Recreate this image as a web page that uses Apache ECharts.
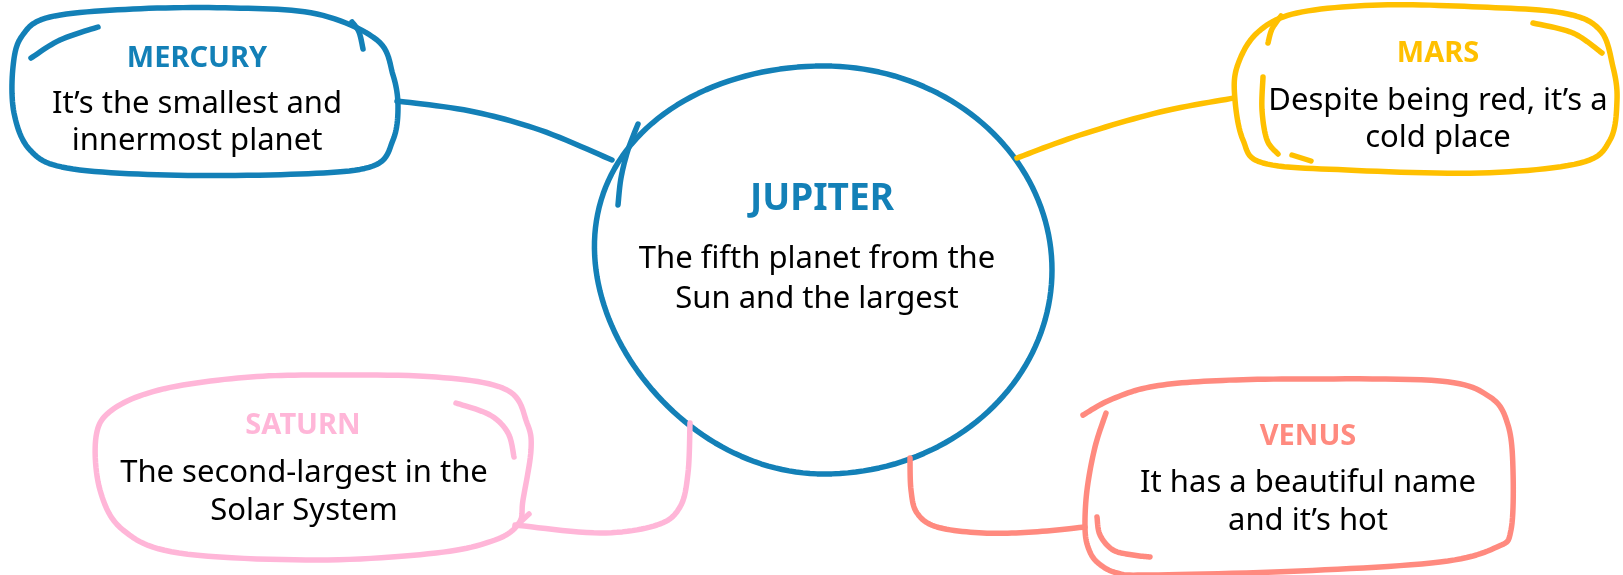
<!DOCTYPE html>
<html>
<head>
<meta charset="utf-8">
<script src="https://cdn.jsdelivr.net/npm/echarts@6/dist/echarts.min.js"></script>
<style>
  html, body { margin: 0; padding: 0; background: #ffffff; }
  #main { width: 1623px; height: 575px; }
</style>
</head>
<body>
<div id="main"></div>
<script>
// Diagram content
const planets = ['MERCURY', 'JUPITER', 'MARS', 'SATURN', 'VENUS'];
const descriptions = [
  ["It\u2019s the smallest and", 'innermost planet'],
  ['The fifth planet from the', 'Sun and the largest'],
  ["Despite being red, it\u2019s a", 'cold place'],
  ['The second-largest in the', 'Solar System'],
  ['It has a beautiful name', "and it\u2019s hot"]
];
const palette = ['#1380b7', '#1380b7', '#ffc000', '#ffb6d8', '#ff8a7f'];

// Layout in chart units (the hidden axes map 1:1 onto the canvas)
const layout = [
  { // Mercury
    title: [197, 59], titleSize: 29, lines: [[197, 104], [197, 141]],
    strokes: [
      { closed: true, pts: [[133, 9], [233, 8], [317, 14], [377, 40], [393, 75], [398, 107], [393, 140], [373, 166], [300, 174], [167, 175], [67, 168], [30, 150], [14, 113], [13, 67], [22, 36], [50, 17]] },
      { pts: [[31, 58], [60, 40], [98, 27]] },
      { pts: [[352, 22], [359, 32], [363, 49]] },
      { pts: [[397, 101], [470, 111], [540, 130], [612, 160]] }
    ]
  },
  { // Jupiter: hand-drawn ring, ellipse with the left side leaning
    title: [822, 199], titleSize: 37, lines: [[817, 259], [817, 299]],
    strokes: [
      { ring: [824, 270, 228, 204, 27] },
      { pts: [[638, 124], [628, 150], [621, 178], [618, 205]] }
    ]
  },
  { // Mars
    title: [1438, 54], titleSize: 29, lines: [[1438, 101], [1438, 138]],
    strokes: [
      { closed: true, pts: [[1380, 5], [1480, 7], [1563, 13], [1600, 30], [1613, 67], [1617, 100], [1610, 140], [1580, 163], [1480, 173], [1347, 170], [1263, 163], [1243, 140], [1235, 100], [1237, 67], [1257, 33], [1297, 13]] },
      { pts: [[1268, 43], [1272, 29], [1281, 16]] },
      { pts: [[1533, 23], [1573, 33], [1602, 53]] },
      { pts: [[1263, 77], [1262, 110], [1267, 140], [1278, 154]] },
      { pts: [[1292, 155], [1311, 161]] },
      { pts: [[1017, 158], [1080, 135], [1160, 112], [1234, 98]] }
    ]
  },
  { // Saturn
    title: [303, 426], titleSize: 29, lines: [[304, 473], [304, 511]],
    strokes: [
      { closed: true, pts: [[317, 375], [436, 377], [507, 390], [527, 423], [531, 450], [523, 500], [519, 523], [495, 540], [436, 553], [317, 560], [179, 553], [123, 530], [100, 490], [96, 437], [112, 410], [159, 390], [238, 378]] },
      { pts: [[456, 403], [490, 415], [508, 433], [514, 457]] },
      { pts: [[529, 514], [515, 527]] },
      { pts: [[515, 525], [600, 533], [657, 525], [680, 507], [688, 473], [690, 423]] }
    ]
  },
  { // Venus
    title: [1308, 437], titleSize: 29, lines: [[1308, 483], [1308, 521]],
    strokes: [
      { pts: [[1083, 415], [1110, 400], [1150, 387], [1210, 381], [1300, 379], [1440, 381], [1490, 397], [1508, 425], [1513, 470], [1511, 530], [1497, 547], [1440, 562], [1300, 571], [1150, 575], [1117, 573], [1097, 562], [1088, 547], [1085, 527], [1087, 490], [1095, 447], [1106, 413]] },
      { pts: [[1097, 517], [1100, 535], [1113, 550], [1133, 555], [1150, 557]] },
      { pts: [[910, 458], [911, 490], [917, 513], [937, 527], [983, 533], [1033, 532], [1085, 527]] }
    ]
  }
];

// catmull-rom through the points, sampled into a dense polyline
function sampleCurve(pts, closed) {
  const n = pts.length;
  if (n < 3) return pts.slice();
  const get = i => closed ? pts[(i + n) % n] : pts[Math.max(0, Math.min(n - 1, i))];
  const segs = closed ? n : n - 1;
  const out = [];
  for (let i = 0; i < segs; i++) {
    const p0 = get(i - 1), p1 = get(i), p2 = get(i + 1), p3 = get(i + 2);
    for (let k = 0; k < 12; k++) {
      const t = k / 12, t2 = t * t, t3 = t2 * t;
      const f = (a, b, c, d) => 0.5 * (2 * b + (-a + c) * t + (2 * a - 5 * b + 4 * c - d) * t2 + (-a + 3 * b - 3 * c + d) * t3);
      out.push([f(p0[0], p1[0], p2[0], p3[0]), f(p0[1], p1[1], p2[1], p3[1])]);
    }
  }
  if (!closed) out.push(pts[n - 1]);
  return out;
}

// ellipse whose left half leans: upper-left pushed out, lower-left pulled in
function sampleRing(r) {
  const [cx, cy, rx, ry, lean] = r;
  const out = [];
  for (let k = 0; k < 180; k++) {
    const a = k / 180 * Math.PI * 2;
    const c = Math.cos(a), s = Math.sin(a);
    out.push([cx + rx * c + lean * s * Math.max(0, -c), cy + ry * s]);
  }
  return out;
}

const fontFamily = '"Noto Sans", "Open Sans", sans-serif';

const chart = echarts.init(document.getElementById('main'), null, { renderer: 'canvas' });

const option = {
  animation: false,
  backgroundColor: '#ffffff',
  grid: { left: 0, right: 0, top: 0, bottom: 0 },
  xAxis: { type: 'value', min: 0, max: 1623, show: false },
  yAxis: { type: 'value', min: 0, max: 575, inverse: true, show: false },
  series: [{
    type: 'custom',
    coordinateSystem: 'cartesian2d',
    data: planets.map((p, i) => [i]),
    renderItem: function (params, api) {
      const i = api.value(0);
      const node = layout[i];
      const color = palette[i];
      const children = [];
      node.strokes.forEach(s => {
        const closed = s.closed || !!s.ring;
        const raw = s.ring ? sampleRing(s.ring) : sampleCurve(s.pts, s.closed);
        children.push({
          type: closed ? 'polygon' : 'polyline',
          shape: { points: raw.map(p => api.coord(p)) },
          style: { fill: null, stroke: color, lineWidth: 5.5, lineCap: 'round', lineJoin: 'round' }
        });
      });
      const t = api.coord(node.title);
      children.push({
        type: 'text', x: t[0], y: t[1],
        style: {
          text: planets[i], fill: color, align: 'center', verticalAlign: 'middle',
          font: 'bold ' + node.titleSize + 'px ' + fontFamily
        }
      });
      descriptions[i].forEach((line, j) => {
        const c = api.coord(node.lines[j]);
        children.push({
          type: 'text', x: c[0], y: c[1],
          style: {
            text: line, fill: '#000000', align: 'center', verticalAlign: 'middle',
            font: '31px ' + fontFamily
          }
        });
      });
      return { type: 'group', children: children };
    }
  }]
};

chart.setOption(option);
</script>
</body>
</html>
